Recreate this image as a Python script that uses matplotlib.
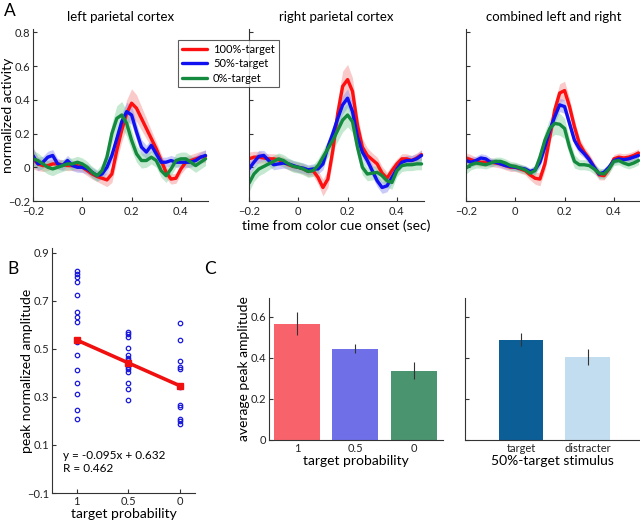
import matplotlib
matplotlib.use("Agg")
import matplotlib.pyplot as plt
import numpy as np

plt.rcParams['font.family'] = ['Lato', 'DejaVu Sans']

# ---------------- data ----------------
t = [-0.20, -0.18, -0.16, -0.14, -0.12, -0.10, -0.08, -0.06, -0.04, -0.02,
     0.00, 0.02, 0.04, 0.06, 0.08, 0.10, 0.12, 0.14, 0.16, 0.18,
     0.20, 0.22, 0.24, 0.26, 0.28, 0.30, 0.32, 0.34, 0.36, 0.38,
     0.40, 0.42, 0.44, 0.46, 0.48, 0.50]

left_red = [0.05, 0.02, 0.01, 0.01, 0.02, 0.02, 0.015, 0.01, 0.01, 0.01,
            0.0, -0.02, -0.04, -0.055, -0.065, -0.075, -0.04, 0.10, 0.22, 0.32,
            0.38, 0.35, 0.29, 0.23, 0.17, 0.11, 0.04, -0.03, -0.07, -0.065,
            -0.01, 0.03, 0.04, 0.05, 0.06, 0.065]
left_blue = [0.07, 0.02, 0.03, 0.06, 0.07, 0.02, 0.01, 0.04, 0.01, 0.0,
             0.0, -0.01, -0.03, -0.05, -0.04, 0.0, 0.07, 0.17, 0.27, 0.33,
             0.31, 0.21, 0.12, 0.09, 0.13, 0.08, 0.03, 0.03, 0.04, 0.03,
             0.03, 0.03, 0.03, 0.04, 0.06, 0.07]
left_green = [0.05, 0.04, 0.02, 0.0, -0.01, 0.0, 0.01, 0.02, 0.02, 0.03,
              0.02, 0.0, -0.03, -0.05, -0.02, 0.06, 0.20, 0.29, 0.31, 0.26,
              0.16, 0.08, 0.04, 0.04, 0.06, 0.04, -0.02, -0.05, -0.01, 0.04,
              0.05, 0.05, 0.03, 0.01, 0.03, 0.05]
left_red_sem = [0.06, 0.04, 0.035, 0.03, 0.03, 0.03, 0.03, 0.03, 0.03, 0.03,
                0.03, 0.03, 0.03, 0.03, 0.035, 0.04, 0.05, 0.06, 0.07, 0.08,
                0.085, 0.08, 0.07, 0.06, 0.05, 0.04, 0.04, 0.035, 0.03, 0.03,
                0.03, 0.035, 0.035, 0.035, 0.035, 0.035]
left_blue_sem = [0.05, 0.04, 0.035, 0.035, 0.035, 0.03, 0.03, 0.03, 0.03, 0.03,
                 0.03, 0.03, 0.03, 0.03, 0.03, 0.035, 0.04, 0.045, 0.05, 0.055,
                 0.055, 0.05, 0.045, 0.04, 0.04, 0.035, 0.03, 0.03, 0.03, 0.03,
                 0.03, 0.03, 0.03, 0.03, 0.03, 0.035]
left_green_sem = [0.05, 0.045, 0.04, 0.04, 0.04, 0.035, 0.035, 0.035, 0.035, 0.035,
                  0.035, 0.035, 0.035, 0.035, 0.04, 0.05, 0.06, 0.075, 0.08, 0.075,
                  0.06, 0.05, 0.045, 0.04, 0.04, 0.04, 0.04, 0.04, 0.04, 0.04,
                  0.04, 0.04, 0.04, 0.04, 0.04, 0.04]

right_red = [0.05, 0.06, 0.06, 0.055, 0.05, 0.05, 0.045, 0.03, 0.015, 0.005,
             0.0, -0.01, -0.025, -0.02, -0.06, -0.12, -0.07, 0.10, 0.32, 0.48,
             0.52, 0.45, 0.25, 0.12, 0.07, 0.045, 0.02, -0.035, -0.065, -0.02,
             0.02, 0.05, 0.05, 0.04, 0.055, 0.075]
right_blue = [-0.01, 0.03, 0.065, 0.07, 0.04, 0.015, 0.02, 0.025, 0.02, 0.01,
              0.0, -0.005, -0.015, -0.01, -0.01, 0.02, 0.12, 0.20, 0.29, 0.37,
              0.41, 0.33, 0.18, 0.09, 0.04, -0.02, -0.08, -0.12, -0.11, -0.06,
              -0.01, 0.03, 0.04, 0.04, 0.05, 0.07]
right_green = [-0.095, -0.04, -0.01, 0.005, 0.02, 0.035, 0.05, 0.04, 0.02, 0.005,
               0.0, -0.01, -0.025, -0.02, 0.01, 0.06, 0.11, 0.16, 0.22, 0.28,
               0.31, 0.27, 0.12, 0.0, -0.04, -0.035, -0.03, -0.05, -0.08, -0.09,
               -0.02, 0.01, 0.015, 0.015, 0.02, 0.02]
right_red_sem = [0.04, 0.035, 0.035, 0.03, 0.03, 0.03, 0.03, 0.03, 0.03, 0.03,
                 0.03, 0.03, 0.03, 0.03, 0.04, 0.05, 0.05, 0.06, 0.08, 0.09,
                 0.09, 0.08, 0.06, 0.05, 0.045, 0.04, 0.04, 0.04, 0.035, 0.035,
                 0.03, 0.03, 0.03, 0.03, 0.03, 0.03]
right_blue_sem = [0.04, 0.035, 0.035, 0.03, 0.03, 0.03, 0.03, 0.03, 0.03, 0.03,
                  0.03, 0.03, 0.03, 0.03, 0.03, 0.035, 0.04, 0.045, 0.05, 0.055,
                  0.055, 0.05, 0.045, 0.04, 0.035, 0.035, 0.035, 0.035, 0.035, 0.035,
                  0.03, 0.03, 0.03, 0.03, 0.03, 0.03]
right_green_sem = [0.05, 0.045, 0.04, 0.04, 0.035, 0.035, 0.035, 0.035, 0.035, 0.035,
                   0.035, 0.035, 0.035, 0.035, 0.04, 0.045, 0.05, 0.06, 0.065, 0.07,
                   0.07, 0.065, 0.055, 0.045, 0.04, 0.04, 0.04, 0.04, 0.04, 0.04,
                   0.035, 0.035, 0.035, 0.035, 0.035, 0.035]

comb_red = [0.055, 0.045, 0.035, 0.03, 0.03, 0.03, 0.025, 0.02, 0.01, 0.0,
            0.0, -0.01, -0.02, -0.045, -0.065, -0.07, 0.02, 0.18, 0.34, 0.44,
            0.455, 0.36, 0.24, 0.14, 0.09, 0.05, 0.0, -0.045, -0.05, -0.01,
            0.05, 0.06, 0.055, 0.06, 0.07, 0.085]
comb_blue = [0.04, 0.03, 0.04, 0.055, 0.05, 0.03, 0.03, 0.02, 0.01, 0.005,
             0.0, -0.005, -0.01, -0.025, -0.015, 0.03, 0.12, 0.22, 0.30, 0.37,
             0.36, 0.26, 0.16, 0.11, 0.08, 0.045, 0.0, -0.04, -0.03, 0.0,
             0.04, 0.05, 0.045, 0.05, 0.06, 0.07]
comb_green = [-0.005, 0.015, 0.025, 0.02, 0.015, 0.025, 0.035, 0.035, 0.025, 0.01,
              0.005, -0.005, -0.015, -0.035, -0.02, 0.06, 0.16, 0.23, 0.26, 0.255,
              0.23, 0.12, 0.035, 0.015, 0.015, 0.01, -0.01, -0.035, -0.04, -0.01,
              0.035, 0.04, 0.025, 0.015, 0.025, 0.04]
comb_red_sem = [0.03, 0.03, 0.025, 0.025, 0.025, 0.025, 0.025, 0.025, 0.025, 0.025,
                0.025, 0.025, 0.025, 0.03, 0.035, 0.04, 0.04, 0.05, 0.05, 0.055,
                0.055, 0.05, 0.04, 0.035, 0.03, 0.03, 0.03, 0.03, 0.025, 0.025,
                0.025, 0.025, 0.025, 0.025, 0.025, 0.025]
comb_blue_sem = [0.03, 0.03, 0.025, 0.025, 0.025, 0.025, 0.02, 0.02, 0.02, 0.02,
                 0.02, 0.02, 0.02, 0.02, 0.025, 0.03, 0.035, 0.04, 0.04, 0.04,
                 0.04, 0.035, 0.03, 0.03, 0.025, 0.025, 0.025, 0.025, 0.025, 0.025,
                 0.02, 0.02, 0.02, 0.02, 0.02, 0.02]
comb_green_sem = [0.035, 0.03, 0.03, 0.025, 0.025, 0.025, 0.025, 0.025, 0.025, 0.025,
                  0.025, 0.025, 0.025, 0.025, 0.03, 0.04, 0.05, 0.06, 0.065, 0.065,
                  0.06, 0.05, 0.04, 0.03, 0.03, 0.03, 0.03, 0.03, 0.03, 0.03,
                  0.025, 0.025, 0.025, 0.025, 0.025, 0.025]

legend_labels = ['100%-target', '50%-target', '0%-target']
panel_titles = ['left parietal cortex', 'right parietal cortex', 'combined left and right']

# B scatter
prob_levels = [1, 0.5, 0]
amp_p1 = [0.826, 0.812, 0.798, 0.779, 0.723, 0.655, 0.632, 0.611, 0.530, 0.475,
          0.412, 0.357, 0.313, 0.247, 0.208]
amp_p05 = [0.570, 0.561, 0.549, 0.503, 0.474, 0.464, 0.455, 0.446, 0.433, 0.423,
           0.415, 0.405, 0.360, 0.334, 0.288]
amp_p0 = [0.606, 0.536, 0.451, 0.426, 0.418, 0.340, 0.268, 0.258, 0.207, 0.198, 0.188]
fit_vals = [0.537, 0.442, 0.347]
fit_text = ['y = -0.095x + 0.632', 'R = 0.462']

# C bars
c1_labels = ['1', '0.5', '0']
c1_means = [0.566, 0.444, 0.337]
c1_err = [0.058, 0.022, 0.041]
c2_labels = ['target', 'distracter']
c2_means = [0.488, 0.405]
c2_err = [0.032, 0.039]

# ---------------- styling ----------------
RED = '#ff1010'
BLUE = '#1010f0'
GREEN = '#138a3e'
BAND = ['#f58a8a', '#8a8af0', '#7ccf98']
C1_COLORS = ['#f8636b', '#6f6fe8', '#4a9470']
C2_COLORS = ['#0b5e96', '#c3ddf0']
LABEL_FS = 10

W, H = 640, 521
fig = plt.figure(figsize=(W / 100, H / 100), dpi=100)


def px(l, tp, r, b):
    return [l / W, 1 - b / H, (r - l) / W, (b - tp) / H]


def style(ax, fs=8):
    for s in ['top', 'right']:
        ax.spines[s].set_visible(False)
    for s in ['left', 'bottom']:
        ax.spines[s].set_linewidth(0.8)
        ax.spines[s].set_color('#333333')
    ax.tick_params(direction='in', length=3, width=0.8, labelsize=fs,
                   colors='#333333', labelcolor='#222222', pad=2)


series = [
    (left_red, left_blue, left_green, left_red_sem, left_blue_sem, left_green_sem),
    (right_red, right_blue, right_green, right_red_sem, right_blue_sem, right_green_sem),
    (comb_red, comb_blue, comb_green, comb_red_sem, comb_blue_sem, comb_green_sem),
]
lefts = [33, 249, 466]
tarr = np.array(t)
for i, (r, b, g, rs, bs, gs) in enumerate(series):
    ax = fig.add_axes(px(lefts[i], 29, lefts[i] + 175, 201))
    style(ax)
    ax.tick_params(axis='x', pad=3.5)
    lines = []
    for vals, sem, bc in [(r, rs, BAND[0]), (b, bs, BAND[1]), (g, gs, BAND[2])]:
        v = np.array(vals)
        s = np.array(sem)
        ax.fill_between(tarr, v - s, v + s, color=bc, alpha=0.45, lw=0)
    for vals, col, lab in [(r, RED, legend_labels[0]), (b, BLUE, legend_labels[1]), (g, GREEN, legend_labels[2])]:
        ln, = ax.plot(tarr, vals, color=col, lw=2.4, label=lab,
                      solid_capstyle='round', solid_joinstyle='round')
        lines.append(ln)
    ax.set_xlim(-0.2, 0.51)
    ax.set_ylim(-0.2, 0.82)
    ax.set_xticks([-0.2, 0, 0.2, 0.4])
    ax.set_xticklabels(['\u22120.2', '0', '0.2', '0.4'])
    ax.set_yticks([-0.2, 0, 0.2, 0.4, 0.6, 0.8])
    if i == 0:
        ax.set_yticklabels(['\u22120.2', '0', '0.2', '0.4', '0.6', '0.8'])
        ax.set_ylabel('normalized activity', fontsize=LABEL_FS)
        ax.yaxis.set_label_coords(-19 / 175, 0.5)
        handles = lines
    else:
        ax.set_yticklabels([])
    ax.set_title(panel_titles[i], fontsize=9.5, pad=6)
    if i == 1:
        ax.set_xlabel('time from color cue onset (sec)', fontsize=LABEL_FS, labelpad=2)

leg = fig.legend(handles, legend_labels, loc='upper left',
                 bbox_to_anchor=(178 / W, 1 - 40 / H), borderaxespad=0,
                 fontsize=8, frameon=True, fancybox=False, handlelength=2.3,
                 handletextpad=0.5, labelspacing=0.3, borderpad=0.35)
leg.get_frame().set_edgecolor('#333333')
leg.get_frame().set_linewidth(0.8)

# ---------------- B ----------------
axB = fig.add_axes(px(52, 248, 195, 493))
style(axB)
for x, ys in zip(prob_levels, [amp_p1, amp_p05, amp_p0]):
    axB.plot([x] * len(ys), ys, 'o', mfc='none', mec='#1a1ad8', ms=3.2, mew=0.9, ls='none')
axB.plot(prob_levels, fit_vals, '-s', color='#f01010', lw=2.6, ms=5)
axB.set_xlim(1.24, -0.15)
axB.set_ylim(-0.1, 0.92)
axB.set_xticks(prob_levels)
axB.set_xticklabels(['1', '0.5', '0'])
axB.set_yticks([-0.1, 0.1, 0.3, 0.5, 0.7, 0.9])
axB.set_yticklabels(['\u22120.1', '0.1', '0.3', '0.5', '0.7', '0.9'])
axB.set_ylabel('peak normalized amplitude', fontsize=LABEL_FS)
axB.yaxis.set_label_coords(-19 / 143, 0.5)
axB.set_xlabel('target probability', fontsize=LABEL_FS, labelpad=1)
axB.text(1.13, 0.058, fit_text[0], fontsize=8.5, ha='left', va='center')
axB.text(1.13, 0.003, fit_text[1], fontsize=8.5, ha='left', va='center')

# ---------------- C ----------------
axC1 = fig.add_axes(px(269, 298, 443, 440))
style(axC1)
xc1 = np.arange(1, len(c1_means) + 1)
axC1.bar(xc1, c1_means, width=0.79, color=C1_COLORS, edgecolor='none')
axC1.errorbar(xc1, c1_means, yerr=c1_err, fmt='none', ecolor='#333333', elinewidth=0.8, capsize=0)
axC1.set_xlim(0.52, 3.5)
axC1.set_ylim(0, 0.69)
axC1.set_xticks(xc1)
axC1.set_xticklabels(c1_labels)
axC1.tick_params(axis='x', length=0)
axC1.set_yticks([0, 0.2, 0.4, 0.6])
axC1.set_yticklabels(['0', '0.2', '0.4', '0.6'])
axC1.set_ylabel('average peak amplitude', fontsize=LABEL_FS)
axC1.yaxis.set_label_coords(-19 / 174, 0.5)
axC1.set_xlabel('target probability', fontsize=LABEL_FS, labelpad=1)

axC2 = fig.add_axes(px(465, 298, 640, 440))
style(axC2)
xc2 = np.arange(1, len(c2_means) + 1)
axC2.bar(xc2, c2_means, width=0.67, color=C2_COLORS, edgecolor='none')
axC2.errorbar(xc2, c2_means, yerr=c2_err, fmt='none', ecolor='#333333', elinewidth=0.8, capsize=0)
axC2.set_xlim(0.164, 2.78)
axC2.set_ylim(0, 0.69)
axC2.set_xticks(xc2)
axC2.set_xticklabels(c2_labels)
axC2.tick_params(axis='x', length=0)
axC2.set_yticks([0, 0.2, 0.4, 0.6])
axC2.set_yticklabels([])
axC2.set_xlabel('50%-target stimulus', fontsize=LABEL_FS, labelpad=1)

# panel letters
fig.text(4 / W, 1 - 11 / H, 'A', fontsize=12.5, va='center', ha='left')
fig.text(7 / W, 1 - 269 / H, 'B', fontsize=12.5, va='center', ha='left')
fig.text(204 / W, 1 - 269 / H, 'C', fontsize=12.5, va='center', ha='left')

fig.savefig('out.png', dpi=100)
